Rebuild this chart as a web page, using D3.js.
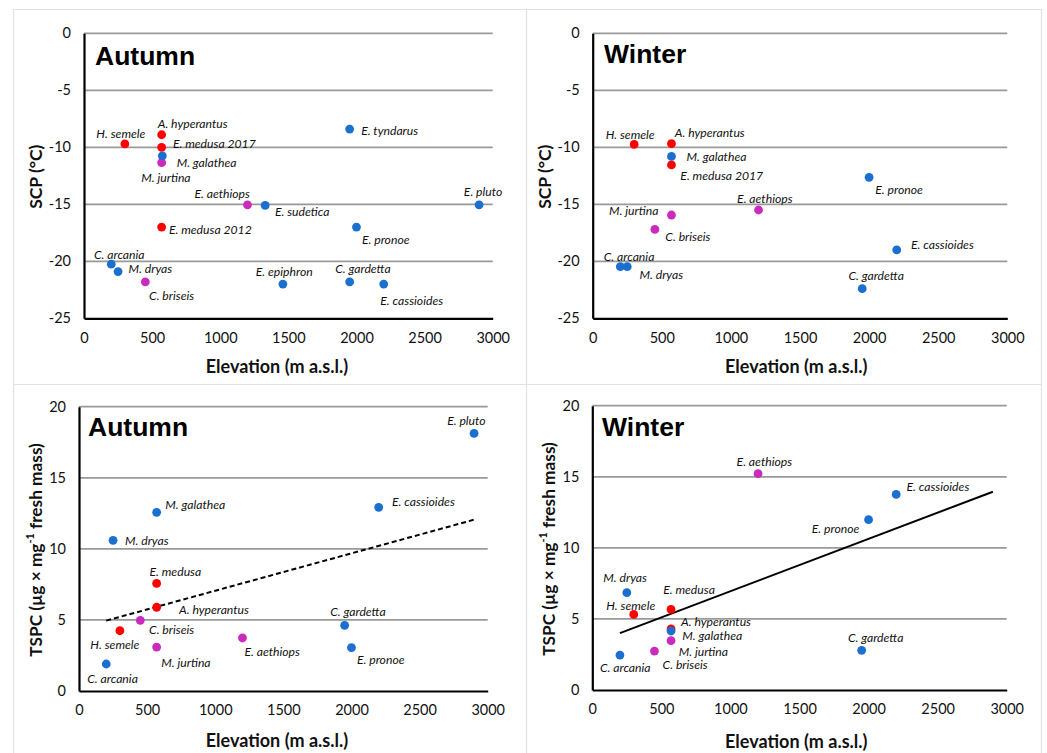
<!DOCTYPE html>
<html><head><meta charset="utf-8">
<script src="https://cdn.jsdelivr.net/npm/d3@7"></script>
<style>
html,body{margin:0;padding:0;background:#fff;}
svg{display:block;}
.tick text{font-family:Lato,"Open Sans",sans-serif;}
</style></head>
<body>
<svg id="chart" width="1047" height="753"></svg>
<script>
// ---------- DATA ----------
const xTicks = [0, 500, 1000, 1500, 2000, 2500, 3000];
const scpTicks = [-25, -20, -15, -10, -5, 0];
const tspcTicks = [0, 5, 10, 15, 20];
const groups = ["magenta", "red", "blue"]; // drawing order

// Panel A: SCP, autumn
const scpAutumnSpecies = ["H. semele","A. hyperantus","E. medusa 2017","M. galathea","M. jurtina","E. aethiops","E. sudetica","E. medusa 2012","C. arcania","M. dryas","C. briseis","E. epiphron","C. gardetta","E. cassioides","E. tyndarus","E. pronoe","E. pluto"];
const scpAutumnElevation = [300, 570, 570, 575, 570, 1200, 1330, 570, 200, 250, 450, 1460, 1950, 2200, 1950, 2000, 2900];
const scpAutumnValue = [-9.7, -8.9, -10.0, -10.75, -11.35, -15.05, -15.1, -17.0, -20.25, -20.9, -21.8, -22.0, -21.8, -22.0, -8.4, -17.0, -15.05];
const scpAutumnGroup = ["red","red","red","blue","magenta","magenta","blue","red","blue","blue","magenta","blue","blue","blue","blue","blue","blue"];

// Panel B: SCP, winter
const scpWinterSpecies = ["H. semele","A. hyperantus","M. galathea","E. medusa 2017","E. pronoe","E. aethiops","M. jurtina","C. briseis","C. arcania","M. dryas","E. cassioides","C. gardetta"];
const scpWinterElevation = [300, 570, 570, 570, 2000, 1200, 570, 450, 200, 250, 2200, 1950];
const scpWinterValue = [-9.75, -9.68, -10.8, -11.55, -12.63, -15.5, -15.94, -17.2, -20.47, -20.47, -19.0, -22.4];
const scpWinterGroup = ["red","red","blue","red","blue","magenta","magenta","magenta","blue","blue","blue","blue"];

// Panel C: TSPC, autumn
const tspcAutumnSpecies = ["E. pluto","E. cassioides","M. galathea","M. dryas","E. medusa","A. hyperantus","C. briseis","H. semele","M. jurtina","E. aethiops","C. arcania","C. gardetta","E. pronoe"];
const tspcAutumnElevation = [2900, 2200, 570, 250, 570, 570, 450, 300, 570, 1200, 200, 1950, 2000];
const tspcAutumnValue = [18.12, 12.92, 12.57, 10.6, 7.57, 5.89, 4.97, 4.24, 3.09, 3.73, 1.9, 4.62, 3.05];
const tspcAutumnGroup = ["blue","blue","blue","blue","red","red","magenta","red","magenta","magenta","blue","blue","blue"];
const tspcAutumnTrend = [[200, 4.95], [2900, 12.05]];

// Panel D: TSPC, winter
const tspcWinterSpecies = ["E. aethiops","E. cassioides","E. pronoe","M. dryas","E. medusa","H. semele","A. hyperantus","M. galathea","M. jurtina","C. briseis","C. arcania","C. gardetta"];
const tspcWinterElevation = [1200, 2200, 2000, 250, 570, 300, 570, 570, 570, 450, 200, 1950];
const tspcWinterValue = [15.22, 13.76, 11.98, 6.85, 5.67, 5.32, 4.3, 4.15, 3.47, 2.74, 2.46, 2.79];
const tspcWinterGroup = ["magenta","blue","blue","blue","red","red","red","blue","magenta","magenta","blue","blue"];
const tspcWinterTrend = [[200, 4.0], [2900, 13.95]];

// ---------- LAYOUT / STYLE ----------
const colorScale = d3.scaleOrdinal().domain(["blue","red","magenta"]).range(["#1b6fcf","#ff0000","#c92cbc"]);

// label offsets (px, center of label relative to its point)
const scpAutumnLabelOffset = [[-4,-10],[31,-11.3],[52.7,-4],[44.3,6.7],[4.3,14.7],[-25.3,-11],[37,6],[48.7,2.7],[8,-9.3],[32.3,-3],[26.3,13.3],[1.3,-12.7],[13.3,-13.3],[28,16],[40,1.7],[29.3,12.3],[4,-13]];
const scpWinterLabelOffset = [[-4,-10],[38.3,-11.3],[45,0.3],[50.3,10.3],[30,12.7],[6.3,-11.3],[-37.7,-4.3],[33,7.3],[8.7,-10.3],[34,8.3],[45.7,-5.7],[14,-13.3]];
const tspcAutumnLabelOffset = [[-7.7,-13],[44.7,-6.3],[38.7,-8.3],[33.7,0.3],[18.7,-11.7],[57.3,2.3],[31.3,9.3],[-5,13.7],[29.3,15],[29.7,13.7],[6.3,15],[13.3,-13.7],[29.3,11.7]];
const tspcWinterLabelOffset = [[6.3,-12],[41.7,-8],[-33,9],[-1.7,-14.7],[18,-20],[-3,-9.3],[45,-7.3],[41.3,4.5],[32.3,11],[30.7,13.3],[5.3,12.3],[14,-13.3]];

const svg = d3.select("#chart");

// panel frames
const frame = svg.append("g").attr("stroke", "#e2e2e2").attr("stroke-width", 1.2).attr("fill", "none");
frame.append("path").attr("d", "M13.5,760 V9.5 H1041.5 V760");
frame.append("line").attr("x1", 526.5).attr("x2", 526.5).attr("y1", 9.5).attr("y2", 760);
frame.append("line").attr("x1", 13.5).attr("x2", 1041.5).attr("y1", 384.5).attr("y2", 384.5);

function drawPanel(cfg) {
  const g = svg.append("g");
  const x = d3.scaleLinear().domain([0, 3000]).range(cfg.xr);
  const y = d3.scaleLinear().domain(cfg.yDomain).range(cfg.yr);

  // gridlines
  g.append("g").selectAll("line").data(cfg.yTicks.filter(t => t !== cfg.yDomain[0]))
    .join("line")
    .attr("x1", cfg.xr[0]).attr("x2", cfg.xr[1])
    .attr("y1", d => y(d)).attr("y2", d => y(d))
    .attr("stroke", "#999").attr("stroke-width", 1.8);

  // axes
  const xAxis = g.append("g").attr("transform", `translate(0,${cfg.yr[0]})`)
    .call(d3.axisBottom(x).tickValues(xTicks).tickSize(0).tickPadding(14).tickFormat(d => String(d)));
  const yAxis = g.append("g").attr("transform", `translate(${cfg.xr[0]},0)`)
    .call(d3.axisLeft(y).tickValues(cfg.yTicks).tickSize(0).tickPadding(13).tickFormat(d => String(d)));
  [xAxis, yAxis].forEach(a => {
    a.select(".domain").attr("stroke", "#000").attr("stroke-width", 2.2);
    a.selectAll(".tick text").attr("font-size", 14.5).attr("fill", "#111");
  });

  // trend line
  if (cfg.trend) {
    g.append("path").datum(cfg.trend)
      .attr("d", d3.line().x(d => x(d[0])).y(d => y(d[1])))
      .attr("fill", "none").attr("stroke", "#000").attr("stroke-width", 2)
      .attr("stroke-dasharray", cfg.dashed ? "5,3" : null);
  }

  // points
  const pts = cfg.species.map((s, i) => ({ s, e: cfg.elev[i], v: cfg.val[i], grp: cfg.grp[i], off: cfg.off[i] }));
  const ordered = pts.slice().sort((a, b) => groups.indexOf(a.grp) - groups.indexOf(b.grp));
  g.append("g").selectAll("circle").data(ordered).join("circle")
    .attr("cx", d => x(d.e)).attr("cy", d => y(d.v)).attr("r", 4.4)
    .attr("fill", d => colorScale(d.grp));

  // labels
  g.append("g").selectAll("text").data(pts).join("text")
    .attr("x", d => x(d.e) + d.off[0]).attr("y", d => y(d.v) + d.off[1])
    .attr("text-anchor", "middle").attr("dominant-baseline", "central")
    .attr("font-family", "Lato, 'Open Sans', sans-serif").attr("font-style", "italic")
    .attr("font-size", 12.2).attr("fill", "#111")
    .text(d => d.s);

  // panel title
  g.append("text").attr("x", cfg.title[1]).attr("y", cfg.title[2])
    .attr("font-family", "'Liberation Sans', Arial, sans-serif").attr("font-weight", "bold")
    .attr("font-size", 26.5).attr("fill", "#000").text(cfg.title[0]);

  // axis titles
  g.append("text").attr("x", cfg.xTitle[0]).attr("y", cfg.xTitle[1])
    .attr("text-anchor", "middle").attr("dominant-baseline", "central")
    .attr("font-family", "Lato, sans-serif").attr("font-weight", "bold").attr("font-size", 18)
    .attr("fill", "#111").text("Elevation (m a.s.l.)");

  // y-axis title: drawn in a rotated group, compressed along its length to the reference span
  const ytG = g.append("g").attr("transform", `translate(${cfg.yTitle[0]},${cfg.yTitle[1]}) rotate(-90)`);
  const yt = ytG.append("text")
    .attr("text-anchor", "middle").attr("dominant-baseline", "central")
    .attr("font-family", "Lato, sans-serif").attr("font-weight", "bold").attr("font-size", 17.5)
    .attr("fill", "#111");
  if (cfg.tspc) {
    yt.append("tspan").text("TSPC (µg × mg");
    yt.append("tspan").attr("dy", -6).attr("font-size", 11).text("-1");
    yt.append("tspan").attr("dy", 6).text(" fresh mass)");
    const bb = yt.node().getBBox();
    const k = bb.width > 0 ? 214 / bb.width : 1;
    yt.attr("transform", `scale(${k},1)`);
  } else {
    yt.text("SCP (°C)");
  }
}

drawPanel({ xr: [84, 492.7], yr: [318.3, 33.3], yDomain: [-25, 0], yTicks: scpTicks,
  species: scpAutumnSpecies, elev: scpAutumnElevation, val: scpAutumnValue, grp: scpAutumnGroup, off: scpAutumnLabelOffset,
  title: ["Autumn", 95, 65], xTitle: [277, 365.7], yTitle: [35, 176.7] });

drawPanel({ xr: [592.7, 1007.3], yr: [318.3, 33.3], yDomain: [-25, 0], yTicks: scpTicks,
  species: scpWinterSpecies, elev: scpWinterElevation, val: scpWinterValue, grp: scpWinterGroup, off: scpWinterLabelOffset,
  title: ["Winter", 604, 62.7], xTitle: [796.3, 365.7], yTitle: [544, 176.7] });

drawPanel({ xr: [79, 487.7], yr: [691, 406.7], yDomain: [0, 20], yTicks: tspcTicks, tspc: true,
  species: tspcAutumnSpecies, elev: tspcAutumnElevation, val: tspcAutumnValue, grp: tspcAutumnGroup, off: tspcAutumnLabelOffset,
  trend: tspcAutumnTrend, dashed: true,
  title: ["Autumn", 88, 436], xTitle: [277, 740], yTitle: [35, 550] });

drawPanel({ xr: [592.3, 1006.7], yr: [690, 405.7], yDomain: [0, 20], yTicks: tspcTicks, tspc: true,
  species: tspcWinterSpecies, elev: tspcWinterElevation, val: tspcWinterValue, grp: tspcWinterGroup, off: tspcWinterLabelOffset,
  trend: tspcWinterTrend, dashed: false,
  title: ["Winter", 602, 436], xTitle: [796.3, 740.7], yTitle: [548.3, 549] });
</script>
</body></html>
